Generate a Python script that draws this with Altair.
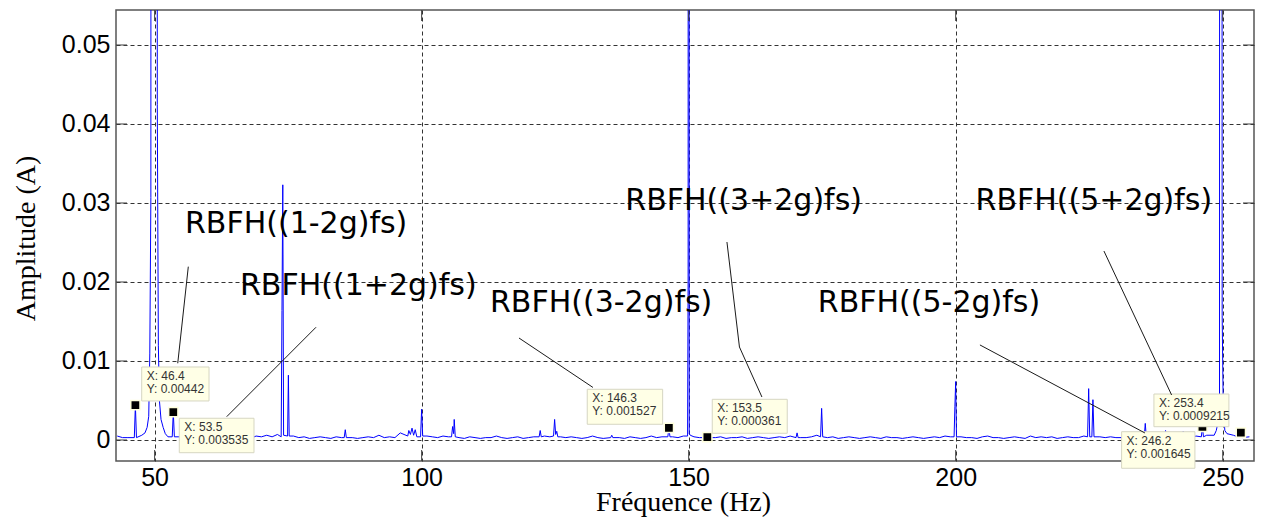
import altair as alt
import pandas as pd

# ---------------- data ----------------
# noise floor, one value per Hz from 43 Hz to 255 Hz
base_freq = list(range(43, 256))
base_amp = [
    .0005, .0003, .0003, .0004, .0005, .0008, .0012, .0015, .0012, .0006,
    .0004, .0003, .0004, .0003, .0002, .0004, .0003, .0003, .0002, .0003,
    .0003, .0002, .0004, .0003, .0003, .0002, .0005, .0004, .0006, .0004,
    .0007, .0005, .0006, .0005, .0003, .0004, .0002, .0003, .0004, .0003,
    .0002, .0004, .0003, .0005, .0003, .0002, .0003, .0004, .0003, .0006,
    .0003, .0004, .0003, .0009, .0006, .0010, .0008, .0006, .0005, .0004,
    .0003, .0005, .0004, .0006, .0003, .0002, .0004, .0003, .0002, .0003,
    .0003, .0005, .0003, .0002, .0003, .0004, .0002, .0003, .0004, .0006,
    .0005, .0004, .0007, .0004, .0003, .0004, .0003, .0002, .0003, .0005,
    .0003, .0002, .0004, .0003, .0003, .0002, .0004, .0003, .0002, .0003,
    .0005, .0003, .0004, .0003, .0004, .0003, .0005, .0008, .0004, .0003,
    .0003, .0002, .0003, .0004, .0002, .0003, .0003, .0004, .0002, .0003,
    .0004, .0003, .0002, .0003, .0004, .0003, .0005, .0004, .0003, .0003,
    .0004, .0006, .0005, .0003, .0004, .0002, .0003, .0004, .0003, .0002,
    .0003, .0004, .0003, .0002, .0004, .0003, .0003, .0002, .0003, .0004,
    .0003, .0002, .0003, .0004, .0003, .0005, .0004, .0010, .0004, .0003,
    .0003, .0002, .0004, .0005, .0003, .0003, .0002, .0003, .0004, .0003,
    .0002, .0005, .0003, .0004, .0003, .0004, .0002, .0003, .0004, .0003,
    .0003, .0005, .0006, .0005, .0004, .0003, .0004, .0003, .0003, .0004,
    .0003, .0004, .0005, .0004, .0003, .0005, .0004, .0003, .0004, .0005,
    .0004, .0003, .0005, .0004, .0006, .0009, .0015, .0020, .0012, .0006,
    .0004, .0003, .0004,
]

# harmonics and side-band lines (Hz, A)
peak_freq = [
    46.2, 46.4, 46.6, 47.6, 48.2, 48.6, 48.9, 49.1, 49.3, 49.5, 50.4, 50.5,
    50.7, 50.9, 51.2, 51.6, 52.0, 52.5, 53.3, 53.5, 53.7,
    73.7, 73.85, 74.0, 74.15, 74.9, 75.05, 75.2,
    85.5, 85.7, 85.9,
    97.4, 97.6, 97.9, 98.2, 98.5, 98.8, 99.1, 99.8, 100.0, 100.2,
    105.6, 105.8, 106.0, 106.1, 106.3,
    122.0, 122.2, 122.4, 124.7, 124.9, 125.1, 125.3, 125.5,
    135.4, 135.6, 135.8, 146.1, 146.3, 146.5,
    149.8, 149.9, 150.0, 150.1, 150.3, 153.3, 153.5, 153.7,
    170.1, 170.3, 170.5, 174.7, 174.9, 175.1,
    199.7, 199.85, 200.0, 200.15,
    224.7, 224.9, 225.1, 225.5, 225.7, 225.9,
    235.3, 235.5, 235.7, 239.1, 239.3, 239.5, 242.4, 242.6, 242.8,
    246.0, 246.2, 246.4, 248.4, 248.8, 249.2, 249.4, 249.6, 249.9, 250.1,
    250.4, 250.8, 253.2, 253.4, 253.6,
]
peak_amp = [
    .0003, .00442, .0003, .0006, .0009, .0016, .0030, .0110, .0307, .6, .6, .0425,
    .0120, .0050, .0026, .0016, .0008, .0004, .0004, .003535, .0004,
    .0004, .0164, .0323, .0006, .0005, .0082, .0005,
    .0003, .0013, .0003,
    .0005, .0012, .0007, .0015, .0006, .0013, .0004, .0004, .0039, .0005,
    .0004, .0017, .0008, .0026, .0004,
    .0004, .0012, .0004, .0005, .0026, .0007, .0011, .0004,
    .0003, .0006, .0003, .0004, .001527, .0004,
    .0005, .0200, .6, .0008, .0006, .0003, .000361, .0003,
    .0003, .0009, .0003, .0004, .0040, .0004,
    .0004, .0042, .0074, .0004,
    .0004, .0065, .0004, .0004, .0051, .0004,
    .0003, .0021, .0003, .0003, .0012, .0003, .0003, .0011, .0003,
    .0004, .001645, .0004, .0006, .0012, .0025, .0040, .6, .0158, .0040,
    .0012, .0008, .0003, .0009215, .0003,
]

# data tips
tip_freq = [46.4, 53.5, 146.3, 153.5, 246.2, 253.4]
tip_amp = [0.00442, 0.003535, 0.001527, 0.000361, 0.001645, 0.0009215]
tip_text = ["X: 46.4\nY: 0.00442", "X: 53.5\nY: 0.003535", "X: 146.3\nY: 0.001527",
            "X: 153.5\nY: 0.000361", "X: 246.2\nY: 0.001645", "X: 253.4\nY: 0.0009215"]
box_f0 = [47.58, 54.62, 131.01, 154.42, 231.07, 237.12]
box_f1 = [60.19, 68.61, 145.13, 168.46, 244.80, 251.16]
box_a0 = [0.00494, -0.00161, 0.00199, 0.00085, -0.00358, 0.00168]
box_a1 = [0.00924, 0.00275, 0.00642, 0.00515, 0.00105, 0.00582]

# annotation labels
lab_text = ["RBFH((1-2g)fs)", "RBFH((1+2g)fs)", "RBFH((3-2g)fs)",
            "RBFH((3+2g)fs)", "RBFH((5+2g)fs)", "RBFH((5-2g)fs)"]
lab_f = [55.69, 65.99, 112.80, 138.15, 203.72, 174.19]
lab_a = [0.0262, 0.01835, 0.0162, 0.02905, 0.02905, 0.0162]

# leader lines
lead_f0 = [56.31, 80.22, 118.23, 157.17, 159.51, 227.76, 204.54]
lead_a0 = [0.02194, 0.01427, 0.01291, 0.02506, 0.01177, 0.02392, 0.01203]
lead_f1 = [54.33, 63.50, 132.08, 159.51, 163.72, 240.43, 235.43]
lead_a1 = [0.00971, 0.00295, 0.00665, 0.01177, 0.00544, 0.0057, 0.00089]

x_ticks = [50, 100, 150, 200, 250]
y_ticks = [0, 0.01, 0.02, 0.03, 0.04, 0.05]
X_TITLE = "Fréquence (Hz)"
Y_TITLE = "Amplitude (A)"

# ---------------- tables ----------------
pts = list(zip(peak_freq, peak_amp))
for f, a in zip(base_freq, base_amp):
    if min(abs(f - p) for p in peak_freq) >= 0.5:
        pts.append((f, a))
pts.sort()
spec = pd.DataFrame(pts, columns=["f", "a"])

tips = pd.DataFrame({"f": tip_freq, "a": tip_amp, "t": tip_text,
                     "x0": box_f0, "x1": box_f1, "y0": box_a0, "y1": box_a1})
labs = pd.DataFrame({"f": lab_f, "a": lab_a, "t": lab_text})
leads = pd.DataFrame({"x0": lead_f0, "y0": lead_a0, "x1": lead_f1, "y1": lead_a1})
xt = pd.DataFrame({"t": x_ticks})
yt = pd.DataFrame({"t": y_ticks})

xs = alt.Scale(domain=[42.77, 255.86], nice=False, zero=False)
ys = alt.Scale(domain=[-0.00266, 0.05443], nice=False, zero=False)

grid_style = dict(grid=True, gridColor="#333333", gridDash=[4, 3], gridWidth=1,
                  ticks=False, domain=False, labelColor="black",
                  labelFont="Liberation Sans", labelFontSize=25,
                  titleFont="Liberation Serif", titleFontSize=28,
                  titleFontWeight="normal", titleColor="black",
                  titleBaseline="alphabetic", titleAlign="center")


def X(field):
    return alt.X(field, title=X_TITLE)


def Y(field):
    return alt.Y(field, title=Y_TITLE)


line = alt.Chart(spec).mark_line(color="#0000ff", strokeWidth=1, clip=True).encode(
    x=alt.X("f:Q", scale=xs, title=X_TITLE,
            axis=alt.Axis(values=x_ticks, titleX=567, titleY=49, labelPadding=4,
                          **grid_style)),
    y=alt.Y("a:Q", scale=ys, title=Y_TITLE,
            axis=alt.Axis(values=y_ticks, format="~g", labelPadding=6,
                          titleX=-82, titleY=228, titleAngle=270, **grid_style)),
)

tick_col = "#404040"
xt_bot = alt.Chart(xt).mark_rule(color=tick_col, strokeWidth=1).encode(
    x=X("t:Q"), y=alt.value(440), y2=alt.value(451))
xt_top = alt.Chart(xt).mark_rule(color=tick_col, strokeWidth=1).encode(
    x=X("t:Q"), y=alt.value(0), y2=alt.value(11))
yt_left = alt.Chart(yt).mark_rule(color=tick_col, strokeWidth=1).encode(
    y=Y("t:Q"), x=alt.value(0), x2=alt.value(11))
yt_right = alt.Chart(yt).mark_rule(color=tick_col, strokeWidth=1).encode(
    y=Y("t:Q"), x=alt.value(1127), x2=alt.value(1138))

markers = alt.Chart(tips).mark_square(size=85, color="black", opacity=1,
                                      stroke="#ffffdd", strokeWidth=1.5).encode(
    x=X("f:Q"), y=Y("a:Q"))

boxes = alt.Chart(tips).mark_rect(fill="#ffffe6", stroke="#d6d6c2", strokeWidth=1).encode(
    x=X("x0:Q"), x2="x1:Q", y=Y("y0:Q"), y2="y1:Q")

box_txt = alt.Chart(tips).mark_text(align="left", baseline="top", dx=5, dy=4,
                                    font="Liberation Sans", fontSize=12, color="#333333",
                                    lineBreak="\n", lineHeight=13).encode(
    x=X("x0:Q"), y=Y("y1:Q"), text="t:N")

leaders = alt.Chart(leads).mark_rule(color="#1a1a1a", strokeWidth=1).encode(
    x=X("x0:Q"), x2="x1:Q", y=Y("y0:Q"), y2="y1:Q")

labels = alt.Chart(labs).mark_text(align="left", baseline="alphabetic",
                                   font="DejaVu Sans", fontSize=30, color="black").encode(
    x=X("f:Q"), y=Y("a:Q"), text="t:N")

chart = alt.layer(line, xt_bot, xt_top, yt_left, yt_right, markers, boxes, box_txt,
                  leaders, labels).properties(
    width=1138, height=451,
    padding={"left": 116, "top": 10, "right": 7, "bottom": 57},
    autosize=alt.AutoSizeParams(type="none"),
    background="white",
).configure_view(stroke="#555555", strokeWidth=1.5)

chart.save("out.html", embed_options={"renderer": "svg", "actions": False})
